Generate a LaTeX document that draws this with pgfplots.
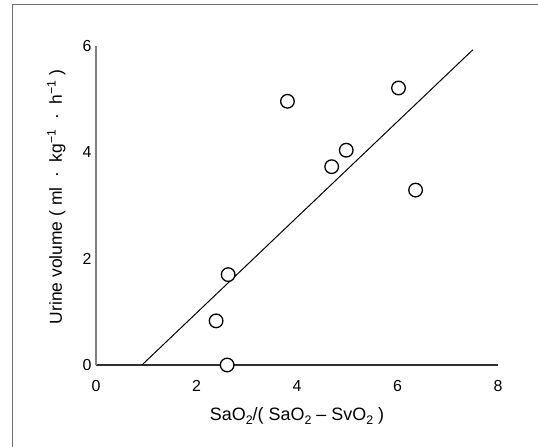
\documentclass[border=0pt]{standalone}
\usepackage{fontspec}
\setmainfont{Liberation Sans}
\usepackage{pgfplots}
\pgfplotsset{compat=1.18}
\definecolor{framegray}{HTML}{6E6E6E}
\definecolor{yaxgray}{HTML}{808080}
\definecolor{xaxgray}{HTML}{303030}
\newcommand{\sub}[1]{\raisebox{-0.18em}{\fontsize{12.5}{12.5}\selectfont #1}}
\begin{document}
\begin{tikzpicture}[x=1bp,y=1bp]
\useasboundingbox (0,0) rectangle (538,447);
\draw[color=framegray, line width=1bp] (12,-10) -- (12,442) -- (550,442);
\begin{axis}[
  at={(96bp,82bp)}, anchor=south west,
  scale only axis, width=402bp, height=319bp,
  xmin=0, xmax=8, ymin=0, ymax=6,
  axis x line*=bottom, axis y line*=left,
  x axis line style={color=xaxgray, line width=1.1bp},
  y axis line style={color=yaxgray, line width=1.1bp},
  xtick={0,2,4,6,8}, ytick={0,2,4,6},
  major tick length=0pt, tick style={draw=none},
  /pgf/number format/assume math mode=true,
  ticklabel style={font=\fontsize{16}{19}\selectfont},
  xticklabel style={yshift=-12bp},
  yticklabel style={xshift=-1bp},
  xlabel={SaO\sub{2}/( SaO\sub{2} – SvO\sub{2} )},
  ylabel={Urine volume (\ ml\ \ ·\ \ kg\textsuperscript{−1}\ \ ·\ \ h\textsuperscript{−1}\ )},
  xlabel style={font=\fontsize{18}{21}\selectfont, at={(axis description cs:0.5,-0.1755)}, anchor=base},
  ylabel style={font=\fontsize{17.5}{21}\selectfont, at={(axis description cs:-0.0846,0.527)}, anchor=base},
  clip=false,
]
\addplot[black, line width=1bp] coordinates {(0.914,0) (7.50,5.93)};
\addplot[only marks, mark=*, mark size=6.8bp, mark options={fill=white, draw=black, line width=1.3bp}] coordinates {
(3.81,4.96) (6.02,5.21) (4.98,4.04) (4.69,3.73) (6.36,3.29) (2.63,1.70) (2.39,0.83) (2.61,0.0)
};
\end{axis}
\end{tikzpicture}
\end{document}
